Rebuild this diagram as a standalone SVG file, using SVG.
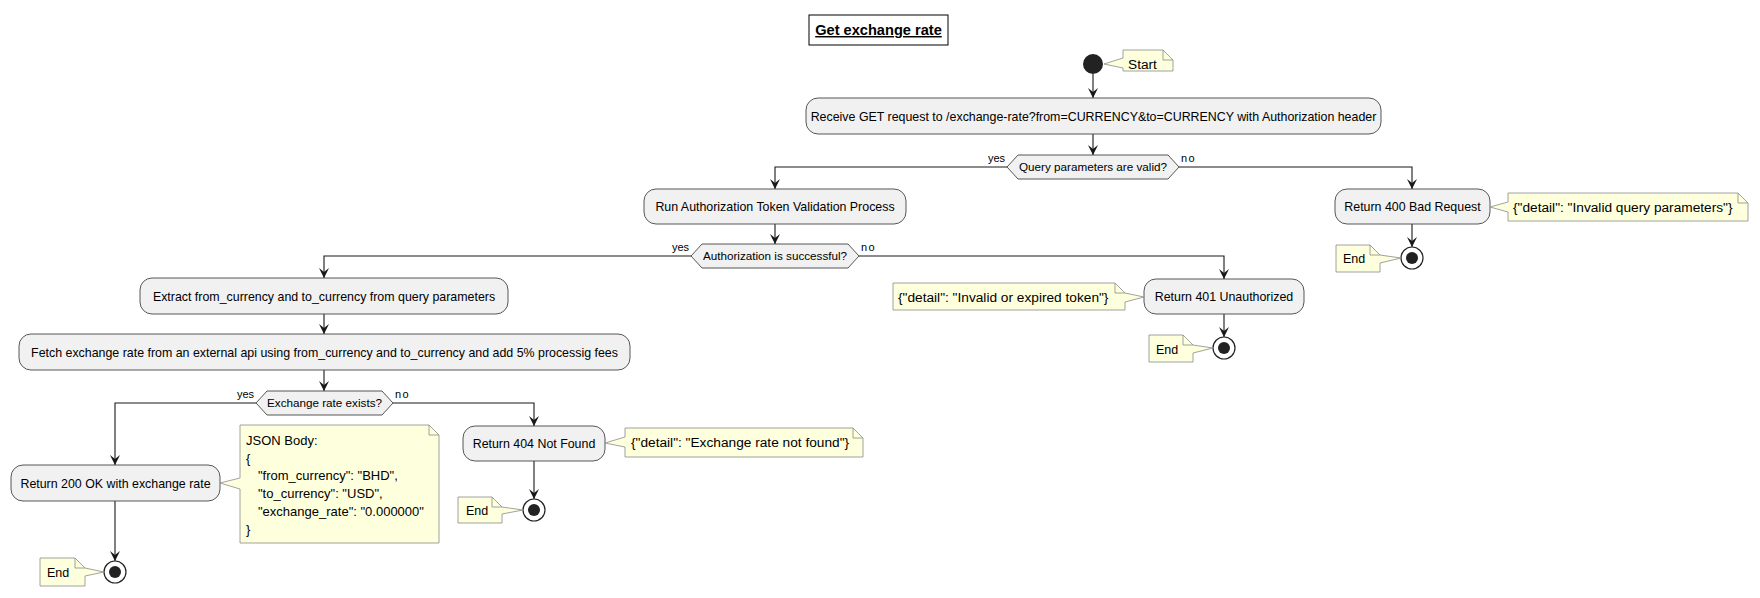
<svg xmlns="http://www.w3.org/2000/svg" width="1760" height="598" viewBox="0 0 1760 598">
<style>
text{font-family:"Liberation Sans",Arial,sans-serif;fill:#000}
.act{fill:#F1F1F1;stroke:#444;stroke-width:0.9}
.dec{fill:#F1F1F1;stroke:#444;stroke-width:0.9}
.note{fill:#FEFFDD;stroke:#8a8a8a;stroke-width:0.8}
.fold{fill:none;stroke:#8a8a8a;stroke-width:0.8}
.at{font-size:12.4px;text-anchor:middle}
.dt{font-size:11.7px;text-anchor:middle}
.lbl{font-size:11px}
.nt{font-size:13.7px}
.end{font-size:12.5px}
.conn{fill:none;stroke:#181818;stroke-width:1.1;marker-end:url(#arr)}
.eo{fill:#fff;stroke:#222;stroke-width:1.2}
.ei{fill:#222}
</style>
<defs>
<marker id="arr" markerWidth="10" markerHeight="10" refX="10" refY="5" orient="auto" markerUnits="userSpaceOnUse">
<path d="M0,0 L10,5 L0,10 L4,5 Z" fill="#181818"/>
</marker>
</defs>

<g id="title">
<rect x="809" y="15" width="139" height="30" fill="#fff" stroke="#000" stroke-width="1"/>
<text x="878.5" y="35" style="font-size:14.6px;font-weight:bold;text-anchor:middle;text-decoration:underline">Get exchange rate</text>
</g>

<g id="connectors">
<path class="conn" d="M1093,74 L1093,98"/>
<path class="conn" d="M1093,134 L1093,155"/>
<path class="conn" d="M1007,167 L775,167 L775,189"/>
<path class="conn" d="M1179,167 L1412,167 L1412,189"/>
<path class="conn" d="M775,224 L775,244"/>
<path class="conn" d="M691,256 L324,256 L324,278"/>
<path class="conn" d="M859,256 L1224,256 L1224,279"/>
<path class="conn" d="M324,314 L324,334"/>
<path class="conn" d="M324,370 L324,391"/>
<path class="conn" d="M256,403 L115,403 L115,465"/>
<path class="conn" d="M393,403 L534,403 L534,426"/>
<path class="conn" d="M115,501 L115,561"/>
<path class="conn" d="M534,461 L534,499"/>
<path class="conn" d="M1224,314 L1224,337"/>
<path class="conn" d="M1412,224 L1412,247"/>
<text class="lbl" x="1005" y="162" text-anchor="end">yes</text>
<text class="lbl" x="1181" y="162" letter-spacing="1.5">no</text>
<text class="lbl" x="689" y="251" text-anchor="end">yes</text>
<text class="lbl" x="861" y="251" letter-spacing="1.5">no</text>
<text class="lbl" x="254" y="398" text-anchor="end">yes</text>
<text class="lbl" x="395" y="398" letter-spacing="1.5">no</text>
</g>

<g id="start">
<circle cx="1093" cy="64" r="10" fill="#222"/>
</g>
<g id="note-start">
<path class="note" d="M1123,50 L1163,50 L1173,60 L1173,71 L1123,71 L1123,68 L1104,64 L1123,58 Z"/>
<path class="fold" d="M1163,50 L1163,60 L1173,60"/>
<text class="nt" x="1128" y="69">Start</text>
</g>

<g id="receive">
<rect class="act" x="806" y="98" width="575" height="36" rx="12"/>
<text class="at" x="1093.5" y="120.5">Receive GET request to /exchange-rate?from=CURRENCY&amp;to=CURRENCY with Authorization header</text>
</g>

<g id="dec-query">
<polygon class="dec" points="1007,167 1018,155 1168,155 1179,167 1168,179 1018,179"/>
<text class="dt" x="1093" y="171">Query parameters are valid?</text>
</g>

<g id="run-auth">
<rect class="act" x="644" y="189" width="262" height="35" rx="12"/>
<text class="at" x="775" y="211">Run Authorization Token Validation Process</text>
</g>

<g id="return-400">
<rect class="act" x="1335" y="189" width="155" height="35" rx="12"/>
<text class="at" x="1412.5" y="211">Return 400 Bad Request</text>
</g>
<g id="note-400">
<path class="note" d="M1508,193 L1738,193 L1748,203 L1748,221 L1508,221 L1508,212 L1490,207 L1508,202 Z"/>
<path class="fold" d="M1738,193 L1738,203 L1748,203"/>
<text class="nt" x="1513" y="212">{"detail": "Invalid query parameters"}</text>
</g>
<g id="end-400">
<circle class="eo" cx="1412" cy="258" r="11"/>
<circle class="ei" cx="1412" cy="258" r="6"/>
<path class="note" d="M1336,245 L1370,245 L1380,255 L1401,258 L1380,263 L1380,272 L1336,272 Z"/>
<path class="fold" d="M1370,245 L1370,255 L1380,255"/>
<text class="end" x="1343" y="263">End</text>
</g>

<g id="dec-auth">
<polygon class="dec" points="691,256 702,244 848,244 859,256 848,268 702,268"/>
<text class="dt" x="775" y="260">Authorization is successful?</text>
</g>

<g id="extract">
<rect class="act" x="140" y="278" width="368" height="36" rx="12"/>
<text class="at" x="324" y="300.5">Extract from_currency and to_currency from query parameters</text>
</g>

<g id="return-401">
<rect class="act" x="1144" y="279" width="160" height="35" rx="12"/>
<text class="at" x="1224" y="301">Return 401 Unauthorized</text>
</g>
<g id="note-401">
<path class="note" d="M893,283 L1115,283 L1125,293 L1144,297 L1125,302 L1125,310 L893,310 Z"/>
<path class="fold" d="M1115,283 L1115,293 L1125,293"/>
<text class="nt" x="898" y="302">{"detail": "Invalid or expired token"}</text>
</g>
<g id="end-401">
<circle class="eo" cx="1224" cy="348" r="11"/>
<circle class="ei" cx="1224" cy="348" r="6"/>
<path class="note" d="M1149,335 L1183,335 L1193,345 L1213,348 L1193,353 L1193,362 L1149,362 Z"/>
<path class="fold" d="M1183,335 L1183,345 L1193,345"/>
<text class="end" x="1156" y="354">End</text>
</g>

<g id="fetch">
<rect class="act" x="19" y="334" width="611" height="36" rx="12"/>
<text class="at" x="324.5" y="357">Fetch exchange rate from an external api using from_currency and to_currency and add 5% processig fees</text>
</g>

<g id="dec-exchange">
<polygon class="dec" points="256,403 267,391 382,391 393,403 382,415 267,415"/>
<text class="dt" x="324.5" y="407">Exchange rate exists?</text>
</g>

<g id="return-200">
<rect class="act" x="11" y="465" width="209" height="36" rx="12"/>
<text class="at" x="115.5" y="488">Return 200 OK with exchange rate</text>
</g>
<g id="note-200">
<path class="note" d="M240,425 L429,425 L439,435 L439,543 L240,543 L240,489 L220,483 L240,478 Z"/>
<path class="fold" d="M429,425 L429,435 L439,435"/>
<text style="font-size:13px">
<tspan x="246" y="445">JSON Body:</tspan>
<tspan x="246" y="462.7">{</tspan>
<tspan x="258" y="480.4">"from_currency": "BHD",</tspan>
<tspan x="258" y="498.1">"to_currency": "USD",</tspan>
<tspan x="258" y="515.8">"exchange_rate": "0.000000"</tspan>
<tspan x="246" y="533.5">}</tspan>
</text>
</g>
<g id="end-200">
<circle class="eo" cx="115" cy="572" r="11"/>
<circle class="ei" cx="115" cy="572" r="6"/>
<path class="note" d="M40,558 L75,558 L85,568 L104,572 L85,576 L85,586 L40,586 Z"/>
<path class="fold" d="M75,558 L75,568 L85,568"/>
<text class="end" x="47" y="577">End</text>
</g>

<g id="return-404">
<rect class="act" x="463" y="426" width="142" height="35" rx="12"/>
<text class="at" x="534" y="448">Return 404 Not Found</text>
</g>
<g id="note-404">
<path class="note" d="M625,428 L853,428 L863,438 L863,457 L625,457 L625,447 L605,443 L625,437 Z"/>
<path class="fold" d="M853,428 L853,438 L863,438"/>
<text class="nt" x="631" y="447">{"detail": "Exchange rate not found"}</text>
</g>
<g id="end-404">
<circle class="eo" cx="534" cy="510" r="11"/>
<circle class="ei" cx="534" cy="510" r="6"/>
<path class="note" d="M458,497 L492,497 L502,507 L523,510 L502,514 L502,523 L458,523 Z"/>
<path class="fold" d="M492,497 L492,507 L502,507"/>
<text class="end" x="466" y="515">End</text>
</g>
</svg>
